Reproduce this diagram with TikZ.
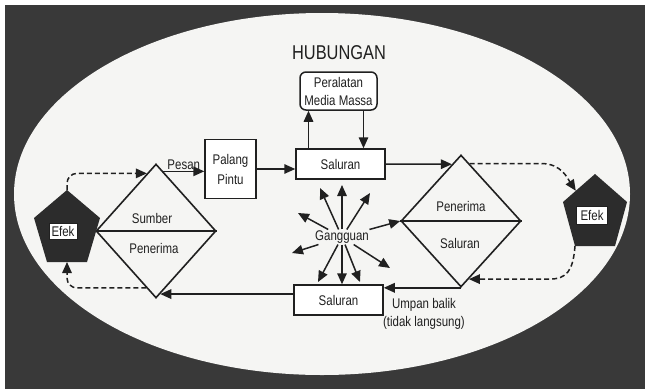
\documentclass[tikz,border=0pt]{standalone}
\usepackage{fontspec}
\setmainfont{Liberation Sans}[FakeStretch=0.82]
\usetikzlibrary{shapes.geometric,arrows.meta,calc}
\definecolor{latar}{HTML}{393939}
\definecolor{kertas}{HTML}{F5F5F3}
\definecolor{gelap}{HTML}{2C2C2C}
\definecolor{tinta}{HTML}{202020}
\tikzset{
  teks/.style={text=tinta, font=\fontsize{14}{18}\selectfont, align=center},
  kotak/.style={teks, draw=tinta, line width=1.5pt, fill=white, inner sep=1pt},
  belah/.style={diamond, draw=tinta, line width=1.6pt, inner sep=0pt, minimum width=120pt, minimum height=134pt},
  efek/.style={draw=tinta, fill=white, text=tinta, line width=1pt, inner sep=2pt, minimum width=28pt, minimum height=16pt, font=\fontsize{14}{14}\selectfont},
  panah/.style={draw=tinta, line width=1.5pt, -{Triangle[length=11pt,width=9.5pt]}},
  putus/.style={panah, dash pattern=on 5pt off 3pt},
}
\begin{document}
\begin{tikzpicture}[x=1pt,y=-1pt]
    \useasboundingbox (0,0) rectangle (645,389);
    % Latar dan elips
    \fill[white] (0,0) rectangle (645,389);
    \fill[latar] (5,5) rectangle (645,389);
    \fill[kertas] (322,194) ellipse [x radius=308pt, y radius=181pt];
    \node[teks, font=\fontsize{20}{22}\selectfont] (judul) at (339,53) {HUBUNGAN};
    % Kotak
    \node[kotak, rounded corners=6pt, minimum width=77pt, minimum height=38pt] (media) at (338.5,91) {Peralatan\\Media Massa};
    \node[kotak, minimum width=51pt, minimum height=59pt, font=\fontsize{14}{20}\selectfont] (palang) at (230.5,169) {Palang\\Pintu};
    \node[kotak, minimum width=89pt, minimum height=30pt] (salA) at (340.5,164) {Saluran};
    \node[kotak, minimum width=89pt, minimum height=30pt] (salB) at (338.5,300) {Saluran};
    % Belah ketupat
    \node[belah] (ls) at (156,231) {};
    \node[belah, minimum height=132pt] (rs) at (461,221) {};
    \draw[tinta, line width=1.6pt] (ls.west) -- (ls.east);
    \draw[tinta, line width=1.6pt] (rs.west) -- (rs.east);
    \node[teks] (sumber) at (152,218) {Sumber};
    \node[teks] (penL) at (154,248) {Penerima};
    \node[teks] (penR) at (461,206) {Penerima};
    \node[teks] (salR) at (460,243) {Saluran};
    % Segi lima efek
    \foreach \n/\cx/\cy/\rx in {L/67/230/33,R/595/214/32}
      \fill[gelap] (\cx,\cy-40) coordinate (p\n-t) -- (\cx+\rx,\cy-12) coordinate (p\n-ka)
        -- (\cx+20,\cy+32) coordinate (p\n-kb) -- (\cx-20,\cy+32) coordinate (p\n-ib)
        -- (\cx-\rx,\cy-12) coordinate (p\n-ia) -- cycle;
    \node[efek] (efekL) at (63,231) {Efek};
    \node[efek, minimum width=31pt, minimum height=18pt] (efekR) at (592,215) {Efek};
    % Titik pada sisi
    \coordinate (pesanA) at ($(ls.north)!0.12!(ls.east)$);
    \coordinate (masukR) at ($(rs.north)!0.15!(rs.west)$);
    \coordinate (keluarL) at ($(ls.south)!0.07!(ls.east)$);
    \coordinate (tL) at ($(ls.north)!0.15!(ls.west)$);
    \coordinate (bL) at ($(ls.south)!0.16!(ls.west)$);
    \coordinate (tR) at ($(rs.north)!0.14!(rs.east)$);
    \coordinate (bR) at ($(rs.south)!0.13!(rs.east)$);
    \coordinate (mR) at ($(pR-t)!0.6!(pR-ia)$);
    % Alur pesan
    \draw[panah] (pesanA) -- (pesanA -| palang.west) node[midway, above, teks, inner sep=1pt] {Pesan};
    \draw[panah] (palang) -- (palang -| salA.west);
    \draw[panah] ([xshift=-32pt]salA.north) -- ([xshift=-32pt]salA.north |- media.south);
    \draw[panah] ([xshift=25pt]media.south) -- ([xshift=25pt]media.south |- salA.north);
    \draw[panah] (salA.east) -- (masukR);
    \draw[panah] (rs.south) -- (rs.south -| salB.east);
    \draw[panah] (keluarL -| salB.west) -- (keluarL);
    \node[teks] (umpan) at (424,314) {Umpan balik\\(tidak langsung)};
    % Efek (putus-putus)
    \draw[putus, rounded corners=10pt] (pL-t) |- (tL);
    \draw[putus, rounded corners=10pt] (bL) -| (pL-ib -| pL-t);
    \draw[putus] (tR) -- ++(72,0) .. controls +(20,0) and +(-8,-12) .. (mR);
    \draw[putus] (pR-ib) .. controls +(-2,25) and +(18,0) .. ($(bR)+(80,0)$) -- (bR);
    % Gangguan
    \node[teks, inner sep=1pt] (gang) at (342,237) {Gangguan};
    \foreach \x/\y [count=\i] in {320/188, 342/185, 370/193, 298/213, 292/253, 318/282, 360/282, 390/268}
      \coordinate (g\i) at (\x,\y);
    \foreach \i in {1,...,8}
      \draw[panah] (gang) -- (g\i);
    \draw[panah] (gang) -- (rs.west);
    \draw[panah] (gang) -- (gang |- salB.north);
\end{tikzpicture}
\end{document}
